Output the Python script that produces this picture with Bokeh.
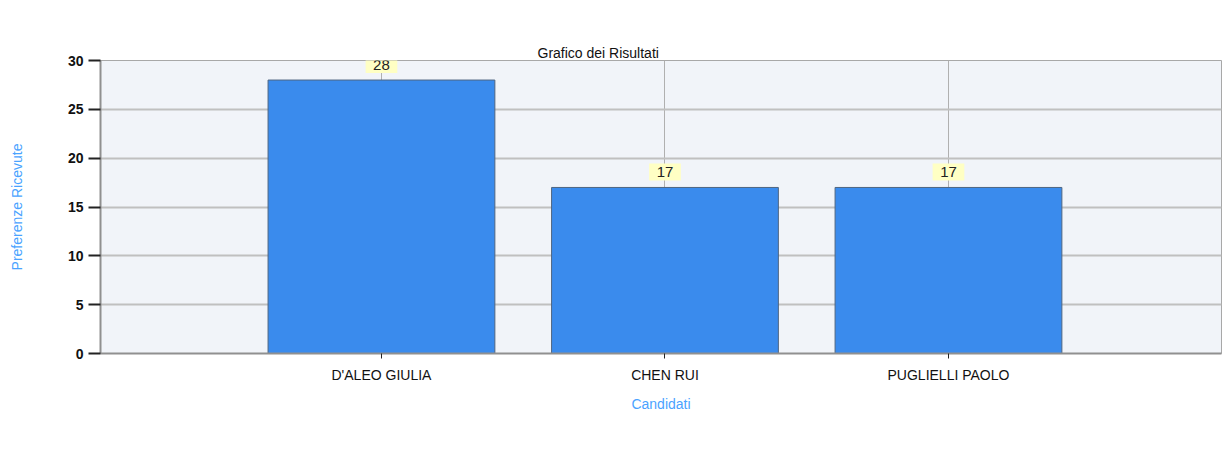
from bokeh.plotting import figure
from bokeh.models import (ColumnDataSource, Range1d, Legend, LegendItem,
                          FixedTicker, Title, LabelSet, LinearAxis)
from bokeh.core.properties import value
from bokeh.embed import file_html
from bokeh.resources import INLINE

# ---- data ----
categories = ["D'ALEO GIULIA", "CHEN RUI", "PUGLIELLI PAOLO"]
votes = [28, 17, 17]
y_ticks = [0, 5, 10, 15, 20, 25, 30]

positions = list(range(1, len(categories) + 1))
src = ColumnDataSource(dict(x=positions, top=votes,
                            lab=["\u2002" + str(v) + "\u2002" for v in votes]))

FONT = "Liberation Sans"

p = figure(title=None, frame_width=1121, frame_height=293, output_backend="svg",
           toolbar_location=None,
           x_range=Range1d(0.009, 3.963), y_range=Range1d(0, 30),
           min_border_left=100, min_border_right=1, min_border_top=60, min_border_bottom=0)

xa = p.xaxis[0]
ya = p.yaxis[0]

p.background_fill_color = "#f1f4f9"
p.border_fill_color = "white"
p.outline_line_color = "#a8a8a8"
p.outline_line_width = 1

bars = p.vbar(x="x", top="top", width=0.8, source=src, fill_color="#3a8bed",
              line_color="#4f6580", line_width=1)

# grid
p.xgrid.ticker = FixedTicker(ticks=positions)
p.xgrid.grid_line_color = "#b0b0b0"
p.xgrid.grid_line_width = 1
p.ygrid.ticker = FixedTicker(ticks=y_ticks)
p.ygrid.grid_line_color = "#c0c0c0"
p.ygrid.grid_line_width = 2

# x axis
xa.ticker = FixedTicker(ticks=positions)
xa.major_label_overrides = {pos: c for pos, c in zip(positions, categories)}
xa.major_label_text_font = FONT
xa.major_label_text_font_size = "14px"
xa.major_label_text_color = "#111111"
xa.major_label_standoff = 8
xa.major_tick_out = 5
xa.major_tick_in = 0
xa.major_tick_line_color = "#222222"
xa.minor_tick_line_color = None
xa.axis_line_color = "#909090"
xa.axis_line_width = 2
xa.axis_label = "Candidati"
xa.axis_label_text_font = FONT
xa.axis_label_text_font_size = "14px"
xa.axis_label_text_font_style = "normal"
xa.axis_label_text_color = "#4aa3ff"
xa.axis_label_standoff = 10

# y axis
ya.ticker = FixedTicker(ticks=y_ticks)
ya.major_label_text_font = FONT
ya.major_label_text_font_size = "14px"
ya.major_label_text_font_style = "bold"
ya.major_label_text_color = "#111111"
ya.major_label_standoff = 5
ya.major_tick_out = 12
ya.major_tick_in = 0
ya.major_tick_line_color = "#222222"
ya.major_tick_line_width = 2
ya.minor_tick_line_color = None
ya.axis_line_color = "#909090"
ya.axis_line_width = 2
ya.axis_label = "Preferenze Ricevute"
ya.axis_label_text_font = FONT
ya.axis_label_text_font_size = "14px"
ya.axis_label_text_font_style = "normal"
ya.axis_label_text_color = "#4aa3ff"
ya.axis_label_standoff = 40


def spacer_axis(size):
    return LinearAxis(ticker=FixedTicker(ticks=[]), axis_line_color=None,
                      major_tick_out=size, major_tick_in=0, major_tick_line_color=None,
                      minor_tick_line_color=None, major_label_standoff=0,
                      major_label_text_font_size="1px")


# spacer between frame and title, then the title itself
p.add_layout(spacer_axis(31), "above")
p.add_layout(Title(text="Grafico dei Risultati", align="left", offset=437, text_font=FONT,
                   text_font_size="14px", text_font_style="normal", text_color="#111111",
                   standoff=0), "above")

# data labels
labels = LabelSet(x="x", y="top", text="lab", source=src, text_align="center",
                  text_baseline="bottom", y_offset=7, text_font=value(FONT),
                  text_font_size="15px", text_color="#222222", text_line_height=1.5,
                  background_fill_color="#ffffc4", background_fill_alpha=1.0)
p.add_layout(labels)

# spacer between x axis and legend
p.add_layout(spacer_axis(32), "below")

legend = Legend(items=[LegendItem(label="Voti Ricevuti", renderers=[bars])],
                orientation="horizontal", location="top_center",
                label_text_font=FONT, label_text_font_size="14px",
                label_text_font_style="bold", label_text_color="#111111",
                glyph_width=34, glyph_height=17, border_line_color=None,
                background_fill_alpha=0, margin=0, padding=0, spacing=4,
                label_standoff=8)
p.add_layout(legend, "below")

open("out.html", "w").write(file_html(p, INLINE))
